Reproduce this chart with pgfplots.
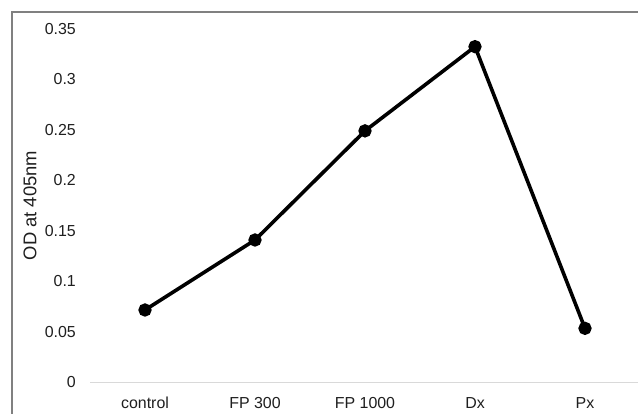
\documentclass[border=0pt]{standalone}
\usepackage{pgfplots}
\pgfplotsset{compat=1.18}
\usepackage{fontspec}
\setmainfont{Liberation Sans}
\begin{document}
\begin{tikzpicture}
\useasboundingbox (0,0) rectangle (638bp,414bp);
\fill[white] (0,0) rectangle (638bp,414bp);
\draw[color=black!50, line width=1.6bp] (12bp,-2bp) -- (12bp,402bp) -- (640bp,402bp);
\begin{axis}[
  at={(90bp,32bp)}, anchor=south west,
  scale only axis, width=550bp, height=353bp,
  xmin=-0.5, xmax=4.5, ymin=0, ymax=0.35,
  axis x line*=bottom, axis y line*=left,
  x axis line style={draw=black!15, line width=1bp},
  y axis line style={draw=none},
  major tick length=0pt,
  xtick={0,1,2,3,4},
  xticklabels={control,FP 300,FP 1000,Dx,Px},
  ytick={0,0.05,0.1,0.15,0.2,0.25,0.3,0.35},
  yticklabels={0,0.05,0.1,0.15,0.2,0.25,0.3,0.35},
  ticklabel style={font=\fontsize{16}{19}\selectfont, text=black!88},
  yticklabel style={anchor=east, inner sep=0pt, xshift=-14bp},
  xticklabel style={anchor=north, inner sep=0pt, yshift=-15bp},
  ylabel={OD at 405nm},
  ylabel style={at={(axis description cs:-0.109,0.5)}, anchor=center, font=\fontsize{18.5}{21}\selectfont, text=black!88},
  clip=false,
]
\addplot[black, line width=3.6bp, mark=*, mark size=4.8bp, mark options={solid, fill=black}]
  coordinates {(0,0.0714) (1,0.1408) (2,0.249) (3,0.3325) (4,0.0532)};
\end{axis}
\end{tikzpicture}
\end{document}
